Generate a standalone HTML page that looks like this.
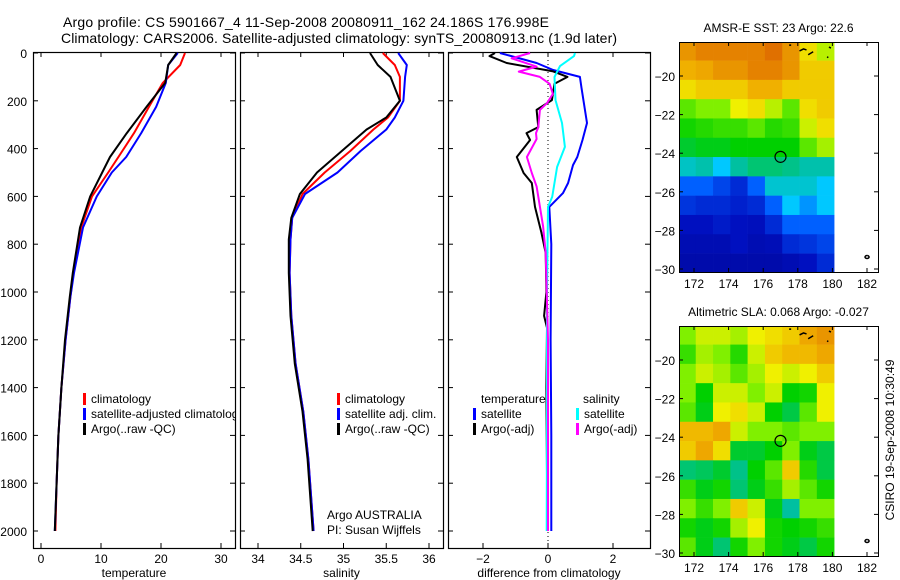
<!DOCTYPE html>
<html><head><meta charset="utf-8"><style>
html,body{margin:0;padding:0;background:#fff;}
svg{display:block;font-family:"Liberation Sans",sans-serif;}
</style></head><body>
<svg id="fig" width="900" height="580" viewBox="0 0 900 580"></svg>
<script>
// ---- profile data ----
const tDepth = [0,50,125,225,335,435,500,600,730,920,1020,1200,1400,1600,1800,2000];
const tArgo  = [22.6,21.2,20.7,17.6,14.3,11.5,10.2,8.2,6.5,5.3,4.8,4.0,3.4,2.9,2.6,2.3];
const tClim  = [24.0,23.2,20.3,18.0,15.5,12.9,11.2,8.5,6.7,5.4,4.9,4.1,3.4,2.9,2.6,2.4];
const tSat   = [22.8,21.2,20.8,19.2,16.7,14.2,11.8,9.3,7.0,5.5,4.9,4.1,3.4,2.9,2.6,2.3];
const sDepth = [0,50,100,200,270,320,410,500,590,690,780,920,1100,1300,1500,1700,2000];
const sArgo  = [35.31,35.40,35.55,35.66,35.50,35.27,34.98,34.69,34.49,34.39,34.36,34.36,34.38,34.43,34.52,34.58,34.64];
const sClim  = [35.46,35.60,35.66,35.66,35.52,35.35,35.08,34.78,34.52,34.40,34.38,34.37,34.39,34.44,34.53,34.59,34.65];
const sSat   = [35.64,35.74,35.72,35.70,35.60,35.50,35.20,34.93,34.55,34.40,34.38,34.37,34.39,34.44,34.53,34.59,34.65];
const dTSatDepth = [0,42,71,100,146,293,364,435,469,544,586,644,800,1200,1600,2000];
const dTSat      = [-1.48,-0.35,0.16,0.98,1.03,1.2,1.06,0.9,0.77,0.62,0.46,0.04,0.1,0.08,0.1,0.1];
const dTArgoDepth = [0,13,42,77,100,129,197,238,310,335,364,435,502,544,644,753,837,1000,1100,1150,1400,2000];
const dTArgo      = [-1.63,-1.8,-1.27,0.16,0.6,0.2,0.12,-0.35,-0.3,-0.66,-0.55,-0.96,-0.75,-0.5,-0.4,-0.2,-0.07,-0.05,-0.12,-0.03,-0.05,-0.02];
const dSSatDepth = [0,13,55,100,197,293,393,477,602,644,1000,1500,2000];
const dSSat      = [0.83,0.8,0.37,0.2,0.23,0.43,0.52,0.28,0.13,0.0,-0.03,-0.03,-0.04];
const dSArgoDepth = [0,22,57,78,100,129,171,210,238,310,335,360,435,502,558,725,837,1200,2000];
const dSArgo      = [-0.55,-1.12,-0.35,-0.9,-0.25,0.05,0.15,-0.03,-0.25,-0.3,-0.37,-0.35,-0.65,-0.5,-0.35,-0.15,-0.07,0.0,0.0];
const depthTicks = [0,200,400,600,800,1000,1200,1400,1600,1800,2000];
const tTicks = [0,10,20,30];
const sTicks = [34,34.5,35,35.5,36];
const dTicks = [-2,0,2];
// ---- map data (colormap index 0..1), rows from -18.2 southward in 1 deg, cols from 171.1 east in 1 deg ----
const sstGrid = [
[0.78,0.80,0.80,0.80,0.80,0.82,0.78,0.70,0.65],
[0.75,0.76,0.78,0.78,0.80,0.80,0.78,0.72,0.72],
[0.70,0.72,0.72,0.72,0.75,0.75,0.72,0.72,0.72],
[0.60,0.62,0.62,0.68,0.70,0.65,0.60,0.70,0.72],
[0.56,0.57,0.58,0.58,0.60,0.57,0.58,0.66,0.70],
[0.53,0.54,0.54,0.55,0.55,0.55,0.55,0.60,0.64],
[0.45,0.47,0.40,0.48,0.50,0.50,0.49,0.47,0.47],
[0.30,0.30,0.25,0.20,0.30,0.44,0.44,0.44,0.40],
[0.22,0.20,0.20,0.18,0.20,0.30,0.40,0.35,0.40],
[0.15,0.15,0.17,0.15,0.14,0.20,0.30,0.30,0.30],
[0.12,0.12,0.12,0.15,0.12,0.13,0.20,0.22,0.25],
[0.10,0.10,0.10,0.10,0.10,0.10,0.12,0.15,0.20]];
const slaGrid = [
[0.62,0.66,0.66,0.64,0.68,0.70,0.72,0.76,0.78],
[0.58,0.64,0.62,0.57,0.66,0.72,0.74,0.74,0.76],
[0.62,0.66,0.64,0.60,0.64,0.68,0.66,0.68,0.72],
[0.62,0.55,0.66,0.66,0.62,0.66,0.55,0.56,0.68],
[0.60,0.54,0.68,0.70,0.66,0.55,0.52,0.60,0.68],
[0.74,0.74,0.76,0.66,0.62,0.62,0.60,0.62,0.62],
[0.72,0.76,0.70,0.53,0.53,0.55,0.62,0.54,0.52],
[0.50,0.51,0.53,0.49,0.55,0.60,0.72,0.57,0.52],
[0.58,0.54,0.56,0.50,0.54,0.58,0.64,0.60,0.56],
[0.62,0.58,0.62,0.72,0.66,0.54,0.48,0.62,0.62],
[0.56,0.54,0.56,0.64,0.68,0.56,0.55,0.56,0.58],
[0.60,0.54,0.50,0.56,0.62,0.56,0.54,0.52,0.56]];
const lonTicks = [172,174,176,178,180,182];
const latTicks = [-20,-22,-24,-26,-28,-30];
const floatLon = 177.0, floatLat = -24.19;

const NS='http://www.w3.org/2000/svg';
const svg=document.getElementById('fig');
function mk(tag,attrs,parent){const e=document.createElementNS(NS,tag);for(const k in attrs)e.setAttribute(k,attrs[k]);(parent||svg).appendChild(e);return e;}
function txt(x,y,s,size,anchor,parent){const t=mk('text',{x:x,y:y,'font-size':size,'text-anchor':anchor||'start',fill:'#000'},parent);t.textContent=s;return t;}

// axes geometry
const TOP=52, BOT=548;
const yD = d => 53 + d*0.239;
const panels=[
 {x0:33,x1:235,f:v=>41+v*6,ticks:tTicks,lab:'temperature',name:'temperature-panel'},
 {x0:240,x1:443,f:v=>258+(v-34)*85.5,ticks:sTicks,lab:'salinity',name:'salinity-panel'},
 {x0:448,x1:650,f:v=>548+v*32.5,ticks:dTicks,lab:'difference from climatology',name:'difference-panel'}];

// titles
let t1=txt(63,27,'Argo profile: CS 5901667_4 11-Sep-2008 20080911_162 24.186S 176.998E',14);
t1.setAttribute('textLength','486');


let t2=txt(61,43,'Climatology: CARS2006. Satellite-adjusted climatology: synTS_20080913.nc (1.9d later)',14);
t2.setAttribute('textLength','556');



panels.forEach((p,i)=>{
  const g=mk('g',{});
  
  
  const cid='clip'+i;
  const cp=mk('clipPath',{id:cid},g);mk('rect',{x:p.x0,y:TOP,width:p.x1-p.x0,height:BOT-TOP},cp);
  p.g=g;p.clip=cid;
  mk('rect',{x:p.x0+0.5,y:TOP+0.5,width:p.x1-p.x0,height:BOT-TOP,fill:'none',stroke:'#000','stroke-width':1.2},g);
  depthTicks.forEach(d=>{const y=yD(d);
    mk('line',{x1:p.x0,x2:p.x0+5,y1:y,y2:y,stroke:'#000'},g);
    mk('line',{x1:p.x1-5,x2:p.x1,y1:y,y2:y,stroke:'#000'},g);
    if(i===0){const l=txt(p.x0-6,y+5,String(d),12,'end',g);}
  });
  p.ticks.forEach(v=>{const x=p.f(v);
    mk('line',{x1:x,x2:x,y1:TOP,y2:TOP+5,stroke:'#000'},g);
    mk('line',{x1:x,x2:x,y1:BOT-5,y2:BOT,stroke:'#000'},g);
    const l=txt(x,563,String(v).replace('-','\u2212'),12,'middle',g);
    
    
  });
  const xl=txt((p.x0+p.x1)/2,577,p.lab,12,'middle',g);
  
  
});

function line(p,depths,vals,color,name,w){
  const pts=depths.map((d,k)=>p.f(vals[k]).toFixed(1)+','+yD(d).toFixed(1)).join(' ');
  const l=mk('polyline',{points:pts,fill:'none',stroke:color,'stroke-width':w||2,'stroke-linejoin':'round','clip-path':'url(#'+p.clip+')'},p.g);
  
  
}
// zero line in diff
const zl=mk('line',{x1:panels[2].f(0),x2:panels[2].f(0),y1:TOP,y2:BOT,stroke:'#000','stroke-dasharray':'1,3'},panels[2].g);



line(panels[0],tDepth,tClim,'#f00','temperature-climatology-line');
line(panels[0],tDepth,tSat,'#00f','temperature-satellite-line');
line(panels[0],tDepth,tArgo,'#000','temperature-argo-line');
line(panels[1],sDepth,sClim,'#f00','salinity-climatology-line');
line(panels[1],sDepth,sSat,'#00f','salinity-satellite-line');
line(panels[1],sDepth,sArgo,'#000','salinity-argo-line');
line(panels[2],dTSatDepth,dTSat,'#00f','diff-temperature-satellite-line');
line(panels[2],dTArgoDepth,dTArgo,'#000','diff-temperature-argo-line');
line(panels[2],dSSatDepth,dSSat,'#0ff','diff-salinity-satellite-line');
line(panels[2],dSArgoDepth,dSArgo,'#f0f','diff-salinity-argo-line');

function legend(p,x,y,color,label,name){
  const g=mk('g',{'clip-path':'url(#'+p.clip+')'},p.g);
  
  
  if(color) mk('rect',{x:x,y:y-10,width:3,height:12,fill:color},g);
  txt(x+(color?8:0),y,label,12,'start',g);
}
legend(panels[0],83,403,'#f00','climatology','legend-climatology');
legend(panels[0],83,418,'#00f','satellite-adjusted climatology','legend-satellite-adjusted');
legend(panels[0],83,433,'#000','Argo(..raw -QC)','legend-argo');
legend(panels[1],337,403,'#f00','climatology','legend-climatology');
legend(panels[1],337,418,'#00f','satellite adj. clim.','legend-satellite-adjusted');
legend(panels[1],337,433,'#000','Argo(..raw -QC)','legend-argo');
legend(panels[2],481,403,null,'temperature','legend-temperature-header');
legend(panels[2],473,418,'#00f','satellite','legend-temperature-satellite');
legend(panels[2],473,433,'#000','Argo(-adj)','legend-temperature-argo');
legend(panels[2],583,403,null,'salinity','legend-salinity-header');
legend(panels[2],576,418,'#0ff','satellite','legend-salinity-satellite');
legend(panels[2],576,433,'#f0f','Argo(-adj)','legend-salinity-argo');
const a1=txt(327,519,'Argo AUSTRALIA',12,'start',panels[1].g);


const a2=txt(327,534,'PI: Susan Wijffels',12,'start',panels[1].g);



// colormap
const stops=[[0,[0,0,128]],[0.15,[0,16,192]],[0.3,[0,96,255]],[0.4,[0,200,255]],[0.48,[0,192,160]],[0.55,[0,208,0]],[0.62,[128,240,0]],[0.68,[240,240,0]],[0.75,[240,176,0]],[0.82,[224,112,0]],[1,[200,60,0]]];
function cmap(v){for(let k=1;k<stops.length;k++){if(v<=stops[k][0]){const a=stops[k-1],b=stops[k];const t=(v-a[0])/(b[0]-a[0]);return 'rgb('+a[1].map((c,j)=>Math.round(c+(b[1][j]-c)*t)).join(',')+')';}}return 'rgb(200,60,0)';}

function drawMap(top,grid,title,name){
  const g=mk('g',{});
  
  
  const L=679,R=878,B=top+230;
  const fx=lon=>694+(lon-172)*17.3;
  const fy=lat=>top+34+(-20-lat)*19.3;
  grid.forEach((row,r)=>row.forEach((v,c)=>{
    const lon0=171.1+c, lat0=-18.2-r;
    const x0=Math.max(L,fx(lon0)), x1=Math.min(fx(180.1),fx(lon0+1));
    const y0=Math.max(top,fy(lat0)), y1=Math.min(B,fy(lat0-1));
    const cell=mk('rect',{x:x0,y:y0,width:x1-x0+0.3,height:y1-y0+0.3,fill:cmap(v)},g);
    
    
  }));
  // coast bits
  mk('path',{d:`M${fx(178.1)},${fy(-18.7)} l4,-2 l3,1 M${fx(178.6)},${fy(-18.9)} l5,-3 M${fx(177.5)},${fy(-18.4)} l2,0 M${fx(179.8)},${fy(-18.5)} l2,1 M${fx(179.7)},${fy(-19.0)} l1,1 M${fx(182)},${fy(-29.3)} a2,1.5 0 1,0 0.1,0`,stroke:'#000','stroke-width':1.5,fill:'none'},g);
  const c=mk('circle',{cx:fx(floatLon),cy:fy(floatLat),r:5.5,fill:'none',stroke:'#000','stroke-width':1.2},g);
  
  
  mk('rect',{x:L+0.5,y:top+0.5,width:R-L,height:B-top,fill:'none',stroke:'#000'},g);
  lonTicks.forEach(lon=>{const x=fx(lon);
    mk('line',{x1:x,x2:x,y1:top,y2:top+4,stroke:'#000'},g);mk('line',{x1:x,x2:x,y1:B-4,y2:B,stroke:'#000'},g);
    const l=txt(x,B+16,String(lon),12,'middle',g);});
  latTicks.forEach(lat=>{const y=fy(lat);
    mk('line',{x1:L,x2:L+4,y1:y,y2:y,stroke:'#000'},g);mk('line',{x1:R-4,x2:R,y1:y,y2:y,stroke:'#000'},g);
    const l=txt(L-4,y+5,String(lat).replace('-','\u2212'),12,'end',g);});
  const tt=txt((L+R)/2,top-10,title,12,'middle',g);
  
  
}
drawMap(42,sstGrid,'AMSR-E SST: 23 Argo: 22.6','sst-map');
drawMap(326,slaGrid,'Altimetric SLA: 0.068 Argo: -0.027','sla-map');
const st=txt(0,0,'CSIRO 19-Sep-2008 10:30:49',12,'middle');
st.setAttribute('transform','translate(894,440) rotate(-90)');


</script>
</body></html>
